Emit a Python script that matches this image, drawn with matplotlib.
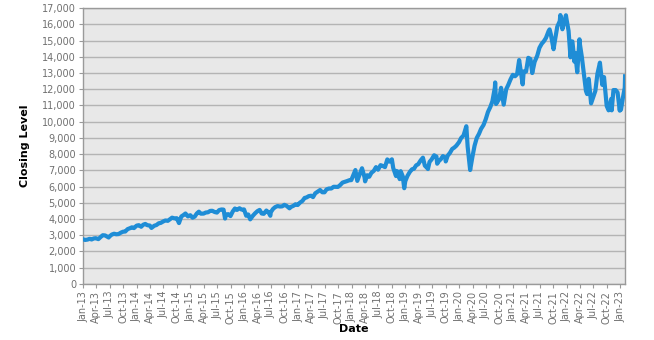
import pandas as pd
import matplotlib
matplotlib.use("Agg")
import matplotlib.pyplot as plt
import matplotlib.dates as mdates
from matplotlib.ticker import FuncFormatter, MultipleLocator

# approximate closing levels (about two per month)
dates = [
    "2013-01-02", "2013-01-15", "2013-01-31", "2013-02-15", "2013-02-28", "2013-03-15", "2013-03-28",
    "2013-04-15", "2013-04-30", "2013-05-15", "2013-05-31", "2013-06-24", "2013-06-28", "2013-07-15",
    "2013-07-31", "2013-08-15", "2013-08-30", "2013-09-15", "2013-09-30", "2013-10-15", "2013-10-31",
    "2013-11-15", "2013-11-29", "2013-12-13", "2013-12-31",
    "2014-01-15", "2014-01-31", "2014-02-14", "2014-02-28", "2014-03-14", "2014-03-31", "2014-04-11",
    "2014-04-30", "2014-05-15", "2014-05-30", "2014-06-13", "2014-06-30", "2014-07-15", "2014-07-31",
    "2014-08-15", "2014-08-29", "2014-09-15", "2014-09-30", "2014-10-15", "2014-10-31", "2014-11-14",
    "2014-11-28", "2014-12-15", "2014-12-31",
    "2015-01-15", "2015-01-30", "2015-02-13", "2015-02-27", "2015-03-13", "2015-03-31", "2015-04-15",
    "2015-04-30", "2015-05-15", "2015-05-29", "2015-06-15", "2015-06-30", "2015-07-15", "2015-07-31",
    "2015-08-14", "2015-08-24", "2015-08-31", "2015-09-15", "2015-09-30", "2015-10-15", "2015-10-30",
    "2015-11-13", "2015-11-30", "2015-12-15", "2015-12-31",
    "2016-01-15", "2016-01-29", "2016-02-11", "2016-02-29", "2016-03-15", "2016-03-31", "2016-04-15",
    "2016-04-29", "2016-05-13", "2016-05-31", "2016-06-15", "2016-06-27", "2016-06-30", "2016-07-15",
    "2016-07-29", "2016-08-15", "2016-08-31", "2016-09-15", "2016-09-30", "2016-10-14", "2016-11-04",
    "2016-11-15", "2016-11-30", "2016-12-15", "2016-12-30",
    "2017-01-13", "2017-01-31", "2017-02-15", "2017-02-28", "2017-03-15", "2017-03-31", "2017-04-13",
    "2017-04-28", "2017-05-15", "2017-05-31", "2017-06-15", "2017-06-30", "2017-07-14", "2017-07-31",
    "2017-08-15", "2017-08-31", "2017-09-15", "2017-09-29", "2017-10-13", "2017-10-31", "2017-11-15",
    "2017-11-30", "2017-12-15", "2017-12-29",
    "2018-01-12", "2018-01-26", "2018-02-08", "2018-02-28", "2018-03-12", "2018-03-29", "2018-04-02",
    "2018-04-16", "2018-04-30", "2018-05-15", "2018-05-31", "2018-06-15", "2018-06-29", "2018-07-16",
    "2018-07-31", "2018-08-15", "2018-08-31", "2018-09-14", "2018-10-01", "2018-10-10", "2018-10-29",
    "2018-10-31", "2018-11-15", "2018-11-23", "2018-11-30", "2018-12-14", "2018-12-24", "2018-12-31",
    "2019-01-15", "2019-01-31", "2019-02-15", "2019-02-28", "2019-03-15", "2019-03-29", "2019-04-15",
    "2019-04-30", "2019-05-13", "2019-05-31", "2019-06-03", "2019-06-14", "2019-06-28", "2019-07-15",
    "2019-07-31", "2019-08-05", "2019-08-15", "2019-08-30", "2019-09-13", "2019-09-30", "2019-10-02",
    "2019-10-15", "2019-10-31", "2019-11-15", "2019-11-29", "2019-12-13", "2019-12-31",
    "2020-01-15", "2020-01-31", "2020-02-19", "2020-02-28", "2020-03-16", "2020-03-31", "2020-04-15",
    "2020-04-30", "2020-05-15", "2020-05-29", "2020-06-15", "2020-06-30", "2020-07-15", "2020-07-31",
    "2020-08-14", "2020-08-31", "2020-09-02", "2020-09-08", "2020-09-30", "2020-10-12", "2020-10-30",
    "2020-11-16", "2020-11-30", "2020-12-15", "2020-12-31",
    "2021-01-15", "2021-01-29", "2021-02-12", "2021-02-26", "2021-03-08", "2021-03-15", "2021-03-31",
    "2021-04-15", "2021-04-30", "2021-05-12", "2021-05-28", "2021-06-15", "2021-06-30", "2021-07-15",
    "2021-07-30", "2021-08-13", "2021-08-31", "2021-09-07", "2021-09-15", "2021-09-30", "2021-10-04",
    "2021-10-15", "2021-10-29", "2021-11-15", "2021-11-19", "2021-11-30", "2021-12-03", "2021-12-15",
    "2021-12-27", "2021-12-31",
    "2022-01-14", "2022-01-27", "2022-01-31", "2022-02-09", "2022-02-23", "2022-02-28", "2022-03-14",
    "2022-03-29", "2022-03-31", "2022-04-14", "2022-04-29", "2022-05-12", "2022-05-20", "2022-05-31",
    "2022-06-16", "2022-06-30", "2022-07-15", "2022-07-29", "2022-08-15", "2022-08-31", "2022-09-12",
    "2022-09-30", "2022-10-13", "2022-10-31", "2022-11-03", "2022-11-15", "2022-11-30", "2022-12-13",
    "2022-12-28", "2022-12-30",
    "2023-01-05", "2023-01-18", "2023-01-31", "2023-02-02",
]
closing = [
    2747, 2710, 2732, 2780, 2739, 2800, 2818,
    2760, 2887, 3000, 2987, 2860, 2910, 3040,
    3094, 3060, 3073, 3160, 3218, 3230, 3378,
    3430, 3487, 3440, 3592,
    3620, 3523, 3650, 3696, 3620, 3596, 3450,
    3586, 3630, 3736, 3760, 3850, 3910, 3888,
    3990, 4083, 4040, 4050, 3750, 4159, 4240,
    4340, 4160, 4236,
    4080, 4151, 4340, 4452, 4330, 4334, 4400,
    4415, 4500, 4508, 4430, 4397, 4550, 4589,
    4580, 4030, 4275, 4300, 4181, 4460, 4648,
    4560, 4665, 4580, 4593,
    4200, 4279, 3980, 4201, 4350, 4484, 4560,
    4341, 4320, 4523, 4400, 4200, 4418, 4620,
    4730, 4800, 4771, 4780, 4875, 4820, 4660,
    4750, 4810, 4910, 4864,
    5000, 5116, 5300, 5330, 5410, 5436, 5350,
    5584, 5690, 5788, 5650, 5647, 5830, 5880,
    5880, 5988, 5980, 5979, 6080, 6248, 6290,
    6337, 6390, 6397,
    6700, 7020, 6350, 6854, 7130, 6581, 6320,
    6700, 6606, 6850, 6967, 7200, 7040, 7320,
    7272, 7200, 7674, 7540, 7680, 7150, 6650,
    6967, 6900, 6460, 6949, 6630, 5900, 6330,
    6660, 6906, 7070, 7097, 7310, 7378, 7620,
    7781, 7290, 7127, 7080, 7520, 7672, 7930,
    7848, 7410, 7560, 7691, 7880, 7749, 7550,
    7900, 8083, 8320, 8403, 8520, 8733,
    9000, 9150, 9720, 8462, 7020, 7813, 8520,
    9000, 9250, 9556, 9800, 10156, 10600, 10905,
    11250, 12110, 12420, 11090, 11418, 12090, 11052,
    12000, 12268, 12600, 12888,
    12800, 12925, 13800, 12909, 12300, 13100, 13091,
    13940, 13860, 13000, 13686, 14070, 14554, 14800,
    14960, 15160, 15583, 15690, 15400, 14689, 14470,
    15100, 15850, 16200, 16573, 16135, 15700, 16150,
    16560, 16320,
    15600, 13970, 14930, 14950, 13700, 14237, 13050,
    15080, 14839, 14000, 12855, 11900, 11700, 12643,
    11130, 11503, 11900, 12947, 13640, 12272, 12750,
    10971, 10700, 11406, 10700, 11950, 11951, 11800,
    10680, 10940,
    10740, 11470, 12102, 12800,
]

x_start = "2013-01-01"
x_end = "2023-02-03"
y_max = 17000
y_step = 1000

df = pd.DataFrame({"date": pd.to_datetime(dates), "close": closing})

fig = plt.figure(figsize=(6.54, 3.40), dpi=100)
ax = fig.add_axes([0.127, 0.165, 0.829, 0.811])

ax.set_facecolor("#e8e8e8")
ax.plot(df["date"], df["close"], color="#1f8dd6", lw=3.0, solid_joinstyle="round", zorder=3)

ax.set_xlim(pd.Timestamp(x_start), pd.Timestamp(x_end))
ax.set_ylim(0, y_max)

ax.yaxis.set_major_locator(MultipleLocator(y_step))
ax.yaxis.set_major_formatter(FuncFormatter(lambda v, p: f"{int(v):,}"))
ax.xaxis.set_major_locator(mdates.MonthLocator(bymonth=[1, 4, 7, 10]))
ax.xaxis.set_major_formatter(mdates.DateFormatter("%b-%y"))

ax.grid(axis="y", color="#b4b4b4", lw=1.0, zorder=0)
ax.grid(axis="x", visible=False)

for s in ax.spines.values():
    s.set_color("#9a9a9a")
    s.set_linewidth(1.0)

ax.tick_params(axis="y", labelsize=7, colors="#9a9a9a", labelcolor="#707070", length=3, pad=2)
ax.tick_params(axis="x", labelsize=7, colors="#9a9a9a", labelcolor="#707070", length=3, pad=2,
               labelrotation=90)

ax.set_ylabel("Closing Level", fontsize=8, fontweight="bold", color="black", labelpad=9)
ax.set_xlabel("Date", fontsize=8, fontweight="bold", color="black", labelpad=0)

fig.savefig("out.png", dpi=100)
